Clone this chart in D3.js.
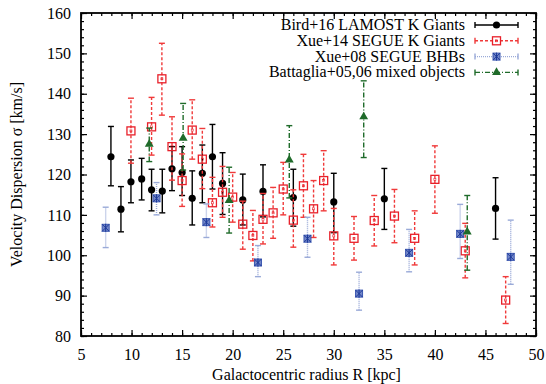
<!DOCTYPE html>
<html>
<head>
<meta charset="utf-8">
<script src="https://cdn.jsdelivr.net/npm/d3@7"></script>
<style>
  body { margin: 0; background: #fff; }
  svg text { font-family: "Liberation Serif", "Times New Roman", serif; }
</style>
</head>
<body>
<svg id="chart" width="546" height="384"></svg>
<script>
// Bird+16 LAMOST K Giants
const birdR = [7.96, 8.95, 9.94, 11.0, 11.98, 13.04, 14.0, 15.0, 16.0, 17.0, 18.0, 19.0, 21.0, 23.0, 26.0, 30.0, 35.0, 46.0];
const birdSigma = [124.4, 111.4, 118.2, 118.9, 116.2, 115.9, 121.4, 120.5, 114.1, 120.3, 124.4, 117.8, 113.7, 115.8, 114.3, 113.2, 114.0, 111.6];
const birdLo = [117.2, 105.8, 113.0, 113.7, 111.0, 110.5, 116.0, 114.8, 107.5, 113.0, 116.4, 110.1, 107.5, 109.5, 107.2, 105.6, 106.4, 104.0];
const birdHi = [131.9, 117.0, 123.6, 124.0, 121.3, 121.3, 126.9, 126.9, 120.9, 127.3, 132.4, 125.4, 120.1, 122.4, 121.3, 120.3, 121.5, 119.2];

// Xue+14 SEGUE K Giants
const xue14R = [9.94, 11.98, 13.0, 14.0, 15.0, 16.0, 17.0, 18.0, 19.0, 20.0, 21.0, 22.0, 23.0, 24.0, 25.0, 26.0, 27.0, 28.0, 29.0, 30.0, 32.0, 34.0, 36.0, 38.0, 40.0, 43.0, 47.0];
const xue14Sigma = [130.8, 131.8, 143.7, 126.9, 118.5, 131.0, 123.8, 113.0, 115.6, 114.4, 107.7, 104.9, 108.9, 110.5, 116.4, 108.7, 117.2, 111.5, 118.5, 104.8, 104.2, 108.6, 109.7, 104.2, 118.8, 101.1, 88.9];
const xue14Lo = [122.8, 124.8, 134.7, 118.6, 112.1, 123.8, 116.5, 107.0, 109.4, 108.2, 101.5, 98.6, 102.8, 104.2, 110.0, 102.0, 109.4, 104.4, 111.0, 97.6, 98.8, 102.3, 103.1, 97.6, 110.4, 94.4, 83.1];
const xue14Hi = [138.9, 139.1, 152.5, 134.3, 125.1, 138.5, 131.4, 119.3, 122.0, 120.5, 113.4, 111.1, 115.3, 116.8, 123.0, 116.2, 125.0, 118.5, 125.9, 111.6, 109.6, 114.8, 116.3, 111.0, 127.1, 107.9, 94.7];

// Xue+08 SEGUE BHBs
const xue08R = [7.44, 12.47, 17.4, 22.5, 27.4, 32.5, 37.45, 42.5, 47.5];
const xue08Sigma = [106.8, 114.1, 108.2, 98.2, 104.1, 90.5, 100.6, 105.3, 99.6];
const xue08Lo = [101.9, 110.0, 104.4, 94.7, 99.5, 86.4, 95.9, 99.2, 92.8];
const xue08Hi = [111.9, 118.0, 112.7, 102.4, 109.4, 95.8, 106.4, 112.6, 108.7];

// Battaglia+05,06 mixed objects
const batR = [11.75, 15.1, 19.65, 25.6, 32.96, 43.2];
const batSigma = [127.5, 129.0, 113.6, 123.6, 134.3, 105.8];
const batLo = [123.2, 121.1, 105.5, 114.2, 124.2, 96.3];
const batHi = [131.5, 137.6, 121.8, 132.1, 143.2, 114.8];

const legendNames = ['Bird+16 LAMOST K Giants', 'Xue+14 SEGUE K Giants', 'Xue+08 SEGUE BHBs', 'Battaglia+05,06 mixed objects'];
const xTicks = [5, 10, 15, 20, 25, 30, 35, 40, 45, 50];
const yTicks = [80, 90, 100, 110, 120, 130, 140, 150, 160];

const margin = { top: 13, right: 10, bottom: 48, left: 81 };
const W = 546, H = 384;
const fontSize = 16;
const svg = d3.select('#chart');
const g = svg.append('g').attr('transform', 'translate(' + margin.left + ',' + margin.top + ')');
const width = W - margin.left - margin.right;
const height = H - margin.top - margin.bottom;

const x = d3.scaleLinear().domain([5, 50]).range([0, width]);
const y = d3.scaleLinear().domain([80, 160]).range([height, 0]);

// axes, gnuplot style: ticks inside, mirrored
function styleAxis(sel) {
    sel.select('.domain').remove();
    sel.selectAll('line').attr('stroke', '#000').attr('stroke-width', 1.2);
    sel.selectAll('text').attr('font-size', fontSize).attr('fill', '#000');
}
const xMinor = d3.range(5, 51, 1);
const yMinor = d3.range(80, 161, 2);

g.append('g').attr('transform', 'translate(0,' + height + ')')
    .call(d3.axisBottom(x).tickValues(xMinor).tickSize(-3).tickFormat(''))
    .call(styleAxis);
g.append('g').attr('transform', 'translate(0,' + height + ')')
    .call(d3.axisBottom(x).tickValues(xTicks).tickSize(-6).tickPadding(13).tickFormat(d3.format('d')))
    .call(styleAxis);
g.append('g')
    .call(d3.axisTop(x).tickValues(xMinor).tickSize(-3).tickFormat(''))
    .call(styleAxis);
g.append('g')
    .call(d3.axisTop(x).tickValues(xTicks).tickSize(-6).tickFormat(''))
    .call(styleAxis);
g.append('g')
    .call(d3.axisLeft(y).tickValues(yMinor).tickSize(-3).tickFormat(''))
    .call(styleAxis);
g.append('g')
    .call(d3.axisLeft(y).tickValues(yTicks).tickSize(-6).tickPadding(10).tickFormat(d3.format('d')))
    .call(styleAxis);
g.append('g').attr('transform', 'translate(' + width + ',0)')
    .call(d3.axisRight(y).tickValues(yMinor).tickSize(-3).tickFormat(''))
    .call(styleAxis);
g.append('g').attr('transform', 'translate(' + width + ',0)')
    .call(d3.axisRight(y).tickValues(yTicks).tickSize(-6).tickFormat(''))
    .call(styleAxis);

g.append('rect').attr('width', width).attr('height', height)
    .attr('fill', 'none').attr('stroke', '#000').attr('stroke-width', 1.8);

// axis titles
svg.append('text')
    .attr('x', margin.left + width / 2 - 2).attr('y', 380)
    .attr('text-anchor', 'middle').attr('font-size', fontSize)
    .text('Galactocentric radius R [kpc]');
svg.append('text')
    .attr('transform', 'translate(22,' + (margin.top + height / 2) + ') rotate(-90)')
    .attr('text-anchor', 'middle').attr('font-size', fontSize)
    .text('Velocity Dispersion σ [km/s]');

const series = [
    { R: birdR, s: birdSigma, lo: birdLo, hi: birdHi, color: '#000', barColor: '#000', dash: null, marker: 'circle' },
    { R: xue14R, s: xue14Sigma, lo: xue14Lo, hi: xue14Hi, color: '#e8202a', barColor: '#f03a3a', dash: '3,2', marker: 'square' },
    { R: xue08R, s: xue08Sigma, lo: xue08Lo, hi: xue08Hi, color: '#3a56b0', barColor: '#9aaad8', dash: '1,1', marker: 'xsquare' },
    { R: batR, s: batSigma, lo: batLo, hi: batHi, color: '#1f6b2a', barColor: '#1f6b2a', dash: '5,2,1,2', marker: 'triangle' }
];

function drawMarker(sel, type, color) {
    if (type === 'circle') {
        sel.append('circle').attr('r', 3.6).attr('fill', color);
    } else if (type === 'square') {
        sel.append('rect').attr('x', -4).attr('y', -4).attr('width', 8).attr('height', 8)
            .attr('fill', 'none').attr('stroke', color).attr('stroke-width', 1.3);
        sel.append('rect').attr('x', -1).attr('y', -1).attr('width', 2).attr('height', 2)
            .attr('fill', 'none').attr('stroke', color).attr('stroke-width', 0.6);
    } else if (type === 'xsquare') {
        sel.append('rect').attr('x', -3.5).attr('y', -3.5).attr('width', 7).attr('height', 7)
            .attr('fill', color).attr('fill-opacity', 0.7).attr('stroke', color).attr('stroke-width', 1);
        sel.append('path').attr('d', 'M-3.5,-3.5L3.5,3.5M-3.5,3.5L3.5,-3.5M0,-4L0,4')
            .attr('stroke', '#1d3a9a').attr('stroke-width', 1);
    } else if (type === 'triangle') {
        sel.append('path').attr('d', d3.symbol(d3.symbolTriangle, 34)()).attr('fill', color);
    }
}

const cap = 3;
series.forEach(function(sr) {
    const pts = sr.R.map(function(r, i) { return { r: r, s: sr.s[i], lo: sr.lo[i], hi: sr.hi[i] }; });
    const layer = g.append('g');
    const bars = layer.selectAll('g.bar').data(pts).enter().append('g').attr('class', 'bar')
        .attr('stroke', sr.barColor).attr('stroke-width', 1.4).attr('fill', 'none');
    bars.append('line')
        .attr('x1', function(d) { return x(d.r); }).attr('x2', function(d) { return x(d.r); })
        .attr('y1', function(d) { return y(d.lo); }).attr('y2', function(d) { return y(d.hi); })
        .attr('stroke-dasharray', sr.dash);
    bars.append('line')
        .attr('x1', function(d) { return x(d.r) - cap; }).attr('x2', function(d) { return x(d.r) + cap; })
        .attr('y1', function(d) { return y(d.lo); }).attr('y2', function(d) { return y(d.lo); });
    bars.append('line')
        .attr('x1', function(d) { return x(d.r) - cap; }).attr('x2', function(d) { return x(d.r) + cap; })
        .attr('y1', function(d) { return y(d.hi); }).attr('y2', function(d) { return y(d.hi); });
    layer.selectAll('g.pt').data(pts).enter().append('g').attr('class', 'pt')
        .attr('transform', function(d) { return 'translate(' + x(d.r) + ',' + y(d.s) + ')'; })
        .each(function() { drawMarker(d3.select(this), sr.marker, sr.color); });
});

// legend
const legend = svg.append('g');
const lx0 = 475, lx1 = 518, ly0 = 25, ldy = 15.8;
series.forEach(function(sr, i) {
    const row = legend.append('g').attr('transform', 'translate(0,' + (ly0 + i * ldy) + ')');
    row.append('text').attr('x', 465).attr('y', 5).attr('text-anchor', 'end').attr('font-size', fontSize)
        .text(legendNames[i]);
    row.append('line').attr('x1', lx0).attr('x2', lx1).attr('y1', 0).attr('y2', 0)
        .attr('stroke', sr.barColor).attr('stroke-width', 1.4).attr('stroke-dasharray', sr.dash);
    [lx0, lx1].forEach(function(cx) {
        row.append('line').attr('x1', cx).attr('x2', cx).attr('y1', -cap).attr('y2', cap)
            .attr('stroke', sr.barColor).attr('stroke-width', 1.4);
    });
    const m = row.append('g').attr('transform', 'translate(' + ((lx0 + lx1) / 2) + ',0)');
    drawMarker(m, sr.marker, sr.color);
});
</script>
</body>
</html>
